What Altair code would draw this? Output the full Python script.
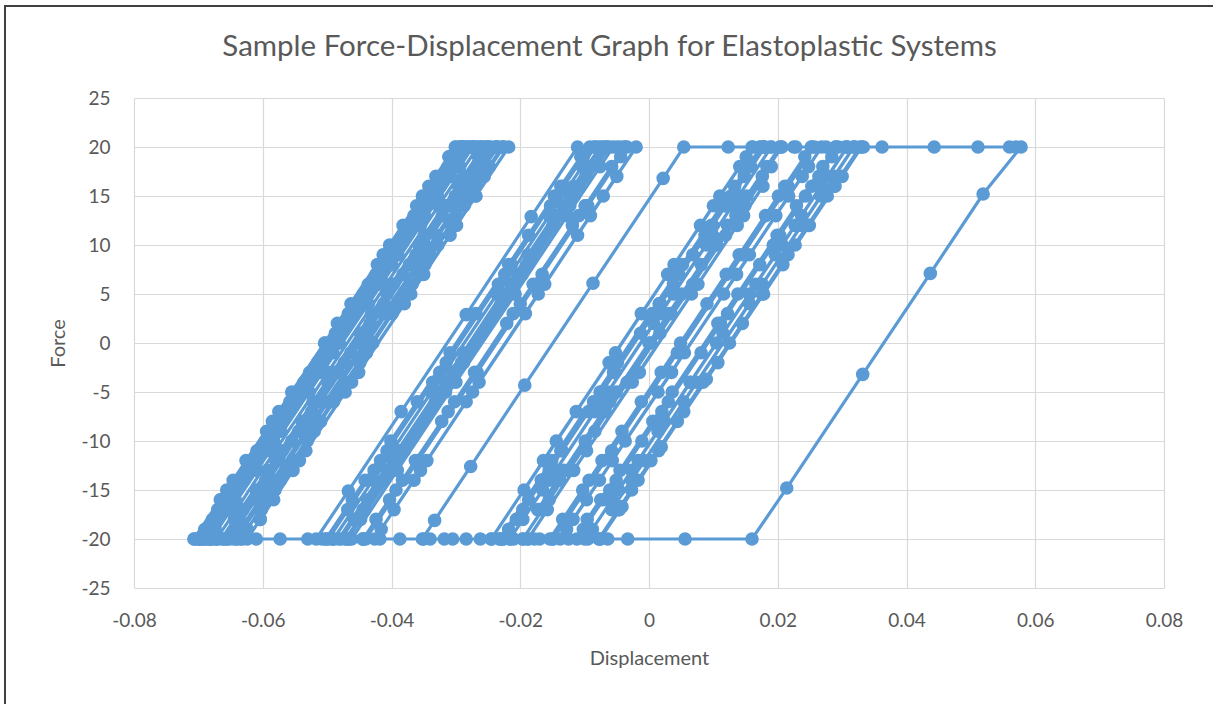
import altair as alt
import pandas as pd

# (displacement, force) pairs, in path order
start_band_c = [
    (0.0000, 0), (0.0081, 8), (0.0152, 15), (0.0183, 18), (0.0122, 12), (0.0031, 3), (-0.0061, -6),
    (-0.0132, -13), (-0.0173, -17), (-0.0142, -14), (-0.0051, -5), (0.0051, 5), (0.0142, 14),
    (0.0203, 20), (0.0225, 20), (0.0252, 20),
    (0.0211, 16), (0.0140, 9), (0.0049, 0), (-0.0042, -9), (-0.0103, -15), (-0.0134, -18),
    (-0.0073, -12), (0.0019, -3), (0.0120, 7), (0.0201, 15), (0.0242, 19), (0.0181, 13), (0.0090, 4),
    (-0.0012, -6), (-0.0093, -14), (-0.0154, -20), (-0.0178, -20), (-0.0196, -20),
]
band_c_2 = [
    (-0.0125, -13), (-0.0034, -4), (0.0068, 6), (0.0149, 14), (0.0190, 18), (0.0119, 11), (0.0017, 1),
    (-0.0084, -9), (-0.0155, -16), (-0.0196, -20), (-0.0215, -20), (-0.0232, -20),
    (-0.0151, -12), (-0.0049, -2), (0.0052, 8), (0.0133, 16), (0.0174, 20), (0.0189, 20), (0.0206, 20),
    (0.0135, 13), (0.0034, 3), (-0.0068, -7), (-0.0139, -14), (-0.0170, -17), (-0.0099, -10),
    (0.0003, 0), (0.0105, 10), (0.0176, 17), (0.0206, 20),
]
band_d_1 = [
    (0.0228, 20), (0.0253, 20), (0.0268, 20),
    (0.0238, 17), (0.0156, 9), (0.0055, -1), (-0.0037, -10), (-0.0097, -16), (-0.0128, -19),
    (-0.0077, -14), (0.0014, -5), (0.0116, 5), (0.0197, 13), (0.0248, 18), (0.0217, 15), (0.0136, 7),
    (0.0035, -3), (-0.0057, -12), (-0.0118, -18), (-0.0138, -20), (-0.0149, -20),
    (-0.0058, -11), (0.0044, -1), (0.0145, 9), (0.0216, 16), (0.0257, 20), (0.0275, 20), (0.0290, 20),
    (0.0229, 14), (0.0138, 5), (0.0036, -5), (-0.0045, -13), (-0.0096, -18), (-0.0075, -16),
    (0.0006, -8), (0.0107, 2), (0.0199, 11), (0.0270, 18), (0.0290, 20), (0.0305, 20), (0.0318, 20),
    (0.0267, 15), (0.0176, 6), (0.0074, -4), (-0.0007, -12), (-0.0058, -17), (-0.0027, -14),
    (0.0054, -6), (0.0156, 4), (0.0237, 12), (0.0288, 17), (0.0318, 20),
    (0.0333, 20), (0.0362, 20), (0.0443, 20), (0.0511, 20), (0.0560, 20), (0.0570, 20), (0.0578, 20),
]
big_unload_band_d = [
    (0.0519, 15.2), (0.0437, 7.1), (0.0332, -3.2), (0.0214, -14.8), (0.0160, -20),
    (0.0056, -20), (-0.0033, -20), (-0.0064, -20), (-0.0076, -20),
    (-0.0042, -16.7), (0.0019, -10.6), (0.0089, -3.7), (0.0178, 5), (0.0249, 12), (0.0300, 17),
    (0.0330, 20), (0.0289, 16), (0.0208, 8), (0.0107, -2), (0.0015, -11), (-0.0046, -17),
    (-0.0076, -20), (-0.0095, -20), (-0.0112, -20),
    (-0.0051, -14), (0.0030, -6), (0.0122, 3), (0.0203, 11), (0.0253, 16), (0.0284, 19), (0.0243, 15),
    (0.0172, 8), (0.0081, -1), (-0.0011, -10), (-0.0071, -16), (-0.0102, -19), (-0.0061, -15),
    (0.0020, -7), (0.0111, 2), (0.0193, 10), (0.0264, 17), (0.0294, 20), (0.0308, 20),
    (0.0267, 16), (0.0207, 10), (0.0115, 1), (0.0024, -8), (-0.0047, -15), (-0.0088, -19),
    (-0.0027, -13), (0.0064, -4), (0.0166, 6), (0.0237, 13), (0.0196, 9), (0.0105, 0), (0.0014, -9),
    (-0.0057, -16), (-0.0017, -12), (0.0064, -4), (0.0156, 5), (0.0227, 12), (0.0278, 17),
    (0.0308, 20), (0.0320, 20), (0.0328, 20),
    (0.0287, 16), (0.0216, 9), (0.0125, 0), (0.0044, -8), (-0.0017, -14), (-0.0048, -17),
    (0.0003, -12), (0.0084, -4), (0.0176, 5), (0.0247, 12), (0.0277, 15), (0.0227, 10), (0.0145, 2),
    (0.0054, -7), (-0.0027, -15), (-0.0078, -20), (-0.0100, -20), (-0.0125, -20), (-0.0150, -20),
    (-0.0170, -20), (-0.0188, -20),
]
band_c_3 = [
    (-0.0117, -13), (-0.0026, -4), (0.0066, 5), (0.0137, 12), (0.0177, 16), (0.0147, 13), (0.0076, 6),
    (-0.0015, -3), (-0.0097, -11), (-0.0158, -17), (-0.0188, -20), (-0.0210, -20), (-0.0228, -20),
    (-0.0167, -14), (-0.0076, -5), (0.0016, 4), (0.0097, 12), (0.0158, 18), (0.0178, 20), (0.0190, 20),
    (0.0129, 14), (0.0038, 5), (-0.0064, -5), (-0.0145, -13), (-0.0196, -18), (-0.0165, -15),
    (-0.0084, -7), (0.0007, 2), (0.0089, 10), (0.0139, 15), (0.0099, 11), (0.0018, 3), (-0.0074, -6),
    (-0.0155, -14), (-0.0216, -20), (-0.0232, -20), (-0.0245, -20),
    (-0.0164, -12), (-0.0062, -2), (0.0029, 7), (0.0100, 14), (0.0141, 18), (0.0080, 12),
    (-0.0012, 3), (-0.0113, -7), (-0.0194, -15), (-0.0144, -10), (-0.0052, -1), (0.0039, 8),
    (0.0110, 15), (0.0151, 19), (0.0161, 20), (0.0172, 20), (0.0180, 20),
    (0.0119, 14), (0.0038, 6), (-0.0053, -3), (-0.0135, -11), (-0.0196, -17), (-0.0165, -14),
    (-0.0094, -7), (-0.0013, 1), (0.0068, 9), (0.0129, 15), (0.0099, 12), (0.0018, 4), (-0.0074, -5),
    (-0.0155, -13), (-0.0206, -18), (-0.0226, -20), (-0.0245, -20), (-0.0284, -20), (-0.0318, -20),
    (-0.0340, -20), (-0.0352, -20),
]
long_branch_and_band_c = [
    (-0.0333, -18.1), (-0.0277, -12.6), (-0.0193, -4.3), (-0.0087, 6.1), (0.0022, 16.8), (0.0054, 20),
    (0.0123, 20), (0.0160, 20), (0.0178, 20),
    (0.0127, 15), (0.0046, 7), (-0.0055, -3), (-0.0137, -11), (-0.0187, -16), (-0.0218, -19),
    (-0.0167, -14), (-0.0086, -6), (0.0005, 3), (0.0087, 11), (0.0148, 17), (0.0178, 20), (0.0117, 14),
    (0.0016, 4), (-0.0086, -6), (-0.0167, -14), (-0.0228, -20), (-0.0262, -20), (-0.0305, -20),
    (-0.0350, -20), (-0.0387, -20), (-0.0418, -20), (-0.0440, -20),
]
band_b_1 = [
    (-0.0359, -12), (-0.0267, -3), (-0.0166, 7), (-0.0095, 14), (-0.0044, 19), (-0.0034, 20), (-0.0020, 20),
    (-0.0071, 15), (-0.0162, 6), (-0.0264, -4), (-0.0345, -12), (-0.0396, -17), (-0.0365, -14),
    (-0.0284, -6), (-0.0192, 3), (-0.0111, 11), (-0.0050, 17), (-0.0091, 13), (-0.0172, 5),
    (-0.0274, -5), (-0.0355, -13), (-0.0416, -19), (-0.0426, -20), (-0.0445, -20), (-0.0462, -20),
    (-0.0391, -13), (-0.0300, -4), (-0.0208, 5), (-0.0127, 13), (-0.0076, 18), (-0.0056, 20),
    (-0.0045, 20), (-0.0038, 20),
    (-0.0099, 14), (-0.0200, 4), (-0.0302, -6), (-0.0383, -14), (-0.0424, -18), (-0.0363, -12),
    (-0.0271, -3), (-0.0180, 6), (-0.0099, 14), (-0.0058, 18), (-0.0119, 12), (-0.0221, 2),
    (-0.0322, -8), (-0.0403, -16), (-0.0444, -20), (-0.0465, -20), (-0.0482, -20),
    (-0.0391, -11), (-0.0289, -1), (-0.0188, 9), (-0.0117, 16), (-0.0076, 20), (-0.0065, 20),
    (-0.0116, 15), (-0.0197, 7), (-0.0288, -2), (-0.0380, -11), (-0.0441, -17), (-0.0471, -20),
    (-0.0490, -20),
    (-0.0429, -14), (-0.0338, -5), (-0.0236, 5), (-0.0155, 13), (-0.0104, 18), (-0.0084, 20),
    (-0.0062, 20),
    (-0.0123, 14), (-0.0214, 5), (-0.0316, -5), (-0.0397, -13), (-0.0448, -18), (-0.0468, -20),
    (-0.0490, -20), (-0.0508, -20), (-0.0517, -20),
]
band_b_2 = [
    (-0.0467, -15.1), (-0.0385, -7.0), (-0.0284, 2.9), (-0.0183, 12.9), (-0.0111, 20), (-0.0085, 20),
    (-0.0068, 20),
    (-0.0109, 16), (-0.0190, 8), (-0.0291, -2), (-0.0383, -11), (-0.0444, -17), (-0.0413, -14),
    (-0.0332, -6), (-0.0230, 4), (-0.0149, 12), (-0.0098, 17), (-0.0068, 20), (-0.0050, 20),
    (-0.0038, 20),
    (-0.0109, 13), (-0.0211, 3), (-0.0312, -7), (-0.0393, -15), (-0.0444, -20), (-0.0470, -20),
    (-0.0498, -20),
    (-0.0427, -13), (-0.0336, -4), (-0.0234, 6), (-0.0153, 14), (-0.0102, 19), (-0.0133, 16),
    (-0.0214, 8), (-0.0315, -2), (-0.0407, -11), (-0.0468, -17), (-0.0417, -12), (-0.0325, -3),
    (-0.0224, 7), (-0.0143, 15), (-0.0092, 20), (-0.0080, 20), (-0.0072, 20),
    (-0.0123, 15), (-0.0204, 7), (-0.0305, -3), (-0.0387, -11), (-0.0437, -16), (-0.0407, -13),
    (-0.0326, -5), (-0.0224, 5), (-0.0143, 13), (-0.0092, 18), (-0.0133, 14), (-0.0214, 6),
    (-0.0316, -4), (-0.0397, -12), (-0.0458, -18), (-0.0478, -20), (-0.0492, -20), (-0.0502, -20),
    (-0.0441, -14), (-0.0360, -6), (-0.0269, 3), (-0.0187, 11), (-0.0137, 16), (-0.0106, 19),
    (-0.0147, 15), (-0.0218, 8), (-0.0309, -1), (-0.0401, -10), (-0.0461, -16), (-0.0502, -20),
    (-0.0530, -20), (-0.0573, -20), (-0.0610, -20), (-0.0632, -20), (-0.0645, -20),
]
band_a_1 = [
    (-0.0584, -14), (-0.0503, -6), (-0.0412, 3), (-0.0330, 11), (-0.0269, 17), (-0.0239, 20),
    (-0.0226, 20), (-0.0218, 20),
    (-0.0269, 15), (-0.0350, 7), (-0.0451, -3), (-0.0533, -11), (-0.0583, -16), (-0.0604, -18),
    (-0.0553, -13), (-0.0472, -5), (-0.0380, 4), (-0.0309, 11), (-0.0269, 15), (-0.0299, 12),
    (-0.0370, 5), (-0.0462, -4), (-0.0543, -12), (-0.0604, -18), (-0.0624, -20), (-0.0640, -20),
    (-0.0652, -20),
    (-0.0601, -15), (-0.0530, -8), (-0.0449, 0), (-0.0358, 9), (-0.0297, 15), (-0.0266, 18),
    (-0.0287, 16), (-0.0348, 10), (-0.0439, 1), (-0.0530, -8), (-0.0601, -15), (-0.0642, -19),
    (-0.0611, -16), (-0.0540, -9), (-0.0449, 0), (-0.0368, 8), (-0.0307, 14), (-0.0256, 19),
    (-0.0246, 20), (-0.0235, 20),
    (-0.0276, 16), (-0.0347, 9), (-0.0438, 0), (-0.0529, -9), (-0.0600, -16), (-0.0641, -20),
    (-0.0658, -20), (-0.0672, -20), (-0.0680, -20),
]
band_a_2 = [
    (-0.0609, -13), (-0.0528, -5), (-0.0436, 4), (-0.0355, 12), (-0.0294, 18), (-0.0274, 20),
    (-0.0262, 20), (-0.0255, 20),
    (-0.0316, 14), (-0.0407, 5), (-0.0499, -4), (-0.0580, -12), (-0.0631, -17), (-0.0610, -15),
    (-0.0539, -8), (-0.0448, 1), (-0.0357, 10), (-0.0296, 16), (-0.0265, 19), (-0.0316, 14),
    (-0.0397, 6), (-0.0488, -3), (-0.0570, -11), (-0.0631, -17), (-0.0661, -20), (-0.0679, -20),
    (-0.0693, -20), (-0.0700, -20),
    (-0.0639, -14), (-0.0558, -6), (-0.0467, 3), (-0.0396, 10), (-0.0345, 15), (-0.0324, 17),
    (-0.0365, 13), (-0.0436, 6), (-0.0527, -3), (-0.0609, -11), (-0.0670, -17), (-0.0690, -19),
    (-0.0649, -15), (-0.0578, -8), (-0.0487, 1), (-0.0406, 9), (-0.0335, 16), (-0.0294, 20),
    (-0.0285, 20), (-0.0278, 20),
]
band_a_3 = [
    (-0.0329, 15), (-0.0400, 8), (-0.0491, -1), (-0.0583, -10), (-0.0643, -16), (-0.0674, -19),
    (-0.0654, -17), (-0.0593, -11), (-0.0511, -3), (-0.0420, 6), (-0.0349, 13), (-0.0308, 17),
    (-0.0329, 15), (-0.0390, 9), (-0.0481, 0), (-0.0572, -9), (-0.0643, -16), (-0.0684, -20),
    (-0.0698, -20), (-0.0706, -20),
    (-0.0665, -16), (-0.0594, -9), (-0.0503, 0), (-0.0422, 8), (-0.0361, 14), (-0.0310, 19),
    (-0.0300, 20), (-0.0292, 20),
    (-0.0333, 16), (-0.0394, 10), (-0.0475, 2), (-0.0566, -7), (-0.0637, -14), (-0.0678, -18),
    (-0.0657, -16), (-0.0596, -10), (-0.0515, -2), (-0.0424, 7), (-0.0353, 14), (-0.0312, 18),
    (-0.0333, 16), (-0.0383, 11), (-0.0465, 3), (-0.0546, -5), (-0.0617, -12), (-0.0668, -17),
    (-0.0637, -14), (-0.0566, -7), (-0.0485, 1), (-0.0414, 8), (-0.0373, 12), (-0.0404, 9),
    (-0.0465, 3), (-0.0536, -4), (-0.0586, -9), (-0.0556, -6), (-0.0495, 0), (-0.0444, 5),
]
band_a_4 = [
    (-0.0373, 12), (-0.0312, 18), (-0.0292, 20), (-0.0280, 20), (-0.0272, 20), (-0.0266, 20),
    (-0.0327, 14), (-0.0408, 6), (-0.0499, -3), (-0.0581, -11), (-0.0641, -17), (-0.0672, -20),
    (-0.0688, -20), (-0.0697, -20),
    (-0.0646, -15), (-0.0565, -7), (-0.0474, 2), (-0.0393, 10), (-0.0342, 15), (-0.0362, 13),
    (-0.0423, 7), (-0.0504, -1), (-0.0585, -9), (-0.0636, -14), (-0.0606, -11), (-0.0535, -4),
    (-0.0453, 4), (-0.0382, 11), (-0.0321, 17), (-0.0291, 20), (-0.0275, 20), (-0.0262, 20),
    (-0.0250, 20),
    (-0.0301, 15), (-0.0372, 8), (-0.0463, -1), (-0.0544, -9), (-0.0605, -15), (-0.0636, -18),
    (-0.0595, -14), (-0.0514, -6), (-0.0433, 2), (-0.0362, 9), (-0.0321, 13), (-0.0352, 10),
    (-0.0412, 4), (-0.0483, -3), (-0.0555, -10), (-0.0595, -14), (-0.0575, -12), (-0.0524, -7),
    (-0.0473, -2), (-0.0443, 1),
]
band_a_5 = [
    (-0.0382, 7), (-0.0311, 14), (-0.0260, 19), (-0.0250, 20), (-0.0238, 20), (-0.0228, 20),
    (-0.0269, 16), (-0.0340, 9), (-0.0431, 0), (-0.0512, -8), (-0.0573, -14), (-0.0604, -17),
    (-0.0583, -15), (-0.0522, -9), (-0.0441, -1), (-0.0350, 8), (-0.0279, 15), (-0.0248, 18),
    (-0.0299, 13), (-0.0390, 4), (-0.0492, -6), (-0.0573, -14), (-0.0624, -19), (-0.0634, -20),
    (-0.0655, -20), (-0.0671, -20), (-0.0683, -20), (-0.0690, -20),
    (-0.0629, -14), (-0.0538, -5), (-0.0446, 4), (-0.0365, 12), (-0.0314, 17), (-0.0294, 19),
    (-0.0335, 15), (-0.0406, 8), (-0.0497, -1), (-0.0589, -10), (-0.0649, -16), (-0.0670, -18),
    (-0.0619, -13), (-0.0528, -4), (-0.0426, 6), (-0.0355, 13), (-0.0304, 18), (-0.0284, 20),
    (-0.0270, 20), (-0.0258, 20),
]
band_a_6 = [
    (-0.0288, 17), (-0.0349, 11), (-0.0431, 3), (-0.0522, -6), (-0.0593, -13), (-0.0644, -18),
    (-0.0664, -20), (-0.0681, -20), (-0.0694, -20), (-0.0702, -20), (-0.0707, -20),
    (-0.0656, -15), (-0.0575, -7), (-0.0484, 2), (-0.0403, 10), (-0.0342, 16), (-0.0311, 19),
    (-0.0331, 17), (-0.0382, 12), (-0.0463, 4), (-0.0555, -5), (-0.0626, -12), (-0.0666, -16),
    (-0.0646, -14), (-0.0585, -8), (-0.0504, 0), (-0.0413, 9), (-0.0352, 15), (-0.0301, 20),
    (-0.0290, 20),
    (-0.0331, 16), (-0.0392, 10), (-0.0473, 2), (-0.0554, -6), (-0.0615, -12), (-0.0645, -15),
    (-0.0605, -11), (-0.0534, -4), (-0.0452, 4), (-0.0402, 9), (-0.0432, 6), (-0.0493, 0),
    (-0.0544, -5), (-0.0513, -2), (-0.0473, 2),
]
band_a_7 = [
    (-0.0402, 9), (-0.0341, 15), (-0.0300, 19), (-0.0290, 20), (-0.0272, 20), (-0.0252, 20),
    (-0.0236, 20), (-0.0226, 20),
    (-0.0277, 15), (-0.0348, 8), (-0.0439, -1), (-0.0520, -9), (-0.0581, -15), (-0.0602, -17),
    (-0.0551, -12), (-0.0470, -4), (-0.0378, 5), (-0.0307, 12), (-0.0256, 17), (-0.0287, 14),
    (-0.0358, 7), (-0.0449, -2), (-0.0531, -10), (-0.0591, -16), (-0.0561, -13), (-0.0490, -6),
    (-0.0399, 3), (-0.0328, 10), (-0.0368, 6), (-0.0439, -1), (-0.0510, -8), (-0.0480, -5),
    (-0.0429, 0),
]

phases = [start_band_c, band_c_2, band_d_1, big_unload_band_d, band_c_3, long_branch_and_band_c,
          band_b_1, band_b_2, band_a_1, band_a_2, band_a_3, band_a_4, band_a_5, band_a_6, band_a_7]
rows = [p for ph in phases for p in ph]
df = pd.DataFrame({
    "i": list(range(len(rows))),
    "disp": [r[0] for r in rows],
    "force": [r[1] for r in rows],
})

x_ticks = [-0.08, -0.06, -0.04, -0.02, 0, 0.02, 0.04, 0.06, 0.08]
y_ticks = [-25, -20, -15, -10, -5, 0, 5, 10, 15, 20, 25]
title_text = "Sample Force-Displacement Graph for Elastoplastic Systems"

FONT = "Lato"
TXT = "#595959"
BLUE = "#5B9BD5"

x_enc = alt.X("disp:Q", scale=alt.Scale(domain=[-0.08, 0.08], nice=False, zero=False),
              axis=alt.Axis(values=x_ticks, title="Displacement", labelFlush=False,
                            labelExpr="datum.value == 0 ? '0' : (datum.value < 0 ? '-' : '') + format(abs(datum.value), '.2f')"))
y_enc = alt.Y("force:Q", scale=alt.Scale(domain=[-25, 25], nice=False),
              axis=alt.Axis(values=y_ticks, title="Force", labelFlush=False,
                            labelExpr="(datum.value < 0 ? '-' : '') + format(abs(datum.value), 'd')"))

line = alt.Chart(df).mark_line(color=BLUE, strokeWidth=3.2).encode(x=x_enc, y=y_enc, order="i:Q")
pts = alt.Chart(df).mark_circle(color=BLUE, size=185, opacity=1).encode(x="disp:Q", y="force:Q")

one = pd.DataFrame({"t": [title_text]})
frame = alt.Chart(one).mark_rect(
    fillOpacity=0, stroke="#404040", strokeWidth=2
).encode(x=alt.value(-129), x2=alt.value(1110), y=alt.value(-92), y2=alt.value(700))
title = alt.Chart(one).mark_text(
    font=FONT, fontSize=29.5, color=TXT, align="center", baseline="alphabetic"
).encode(text="t:N", x=alt.value(475.5), y=alt.value(-42))

chart = alt.layer(frame, line, pts, title).properties(
    width=1030, height=490,
    padding={"left": 134, "top": 98, "right": 49, "bottom": 116},
    autosize="none",
).configure_view(strokeWidth=0).configure_axis(
    grid=True, gridColor="#d9d9d9", gridWidth=1.2, domain=False, ticks=False,
    labelFont=FONT, labelFontSize=19, labelColor=TXT,
    titleFont=FONT, titleFontSize=20, titleColor=TXT, titleFontWeight="normal",
).configure_axisX(labelPadding=23, titlePadding=18).configure_axisY(labelPadding=24, titlePadding=12)

chart.save("out.html", embed_options={"renderer": "svg", "actions": False})
